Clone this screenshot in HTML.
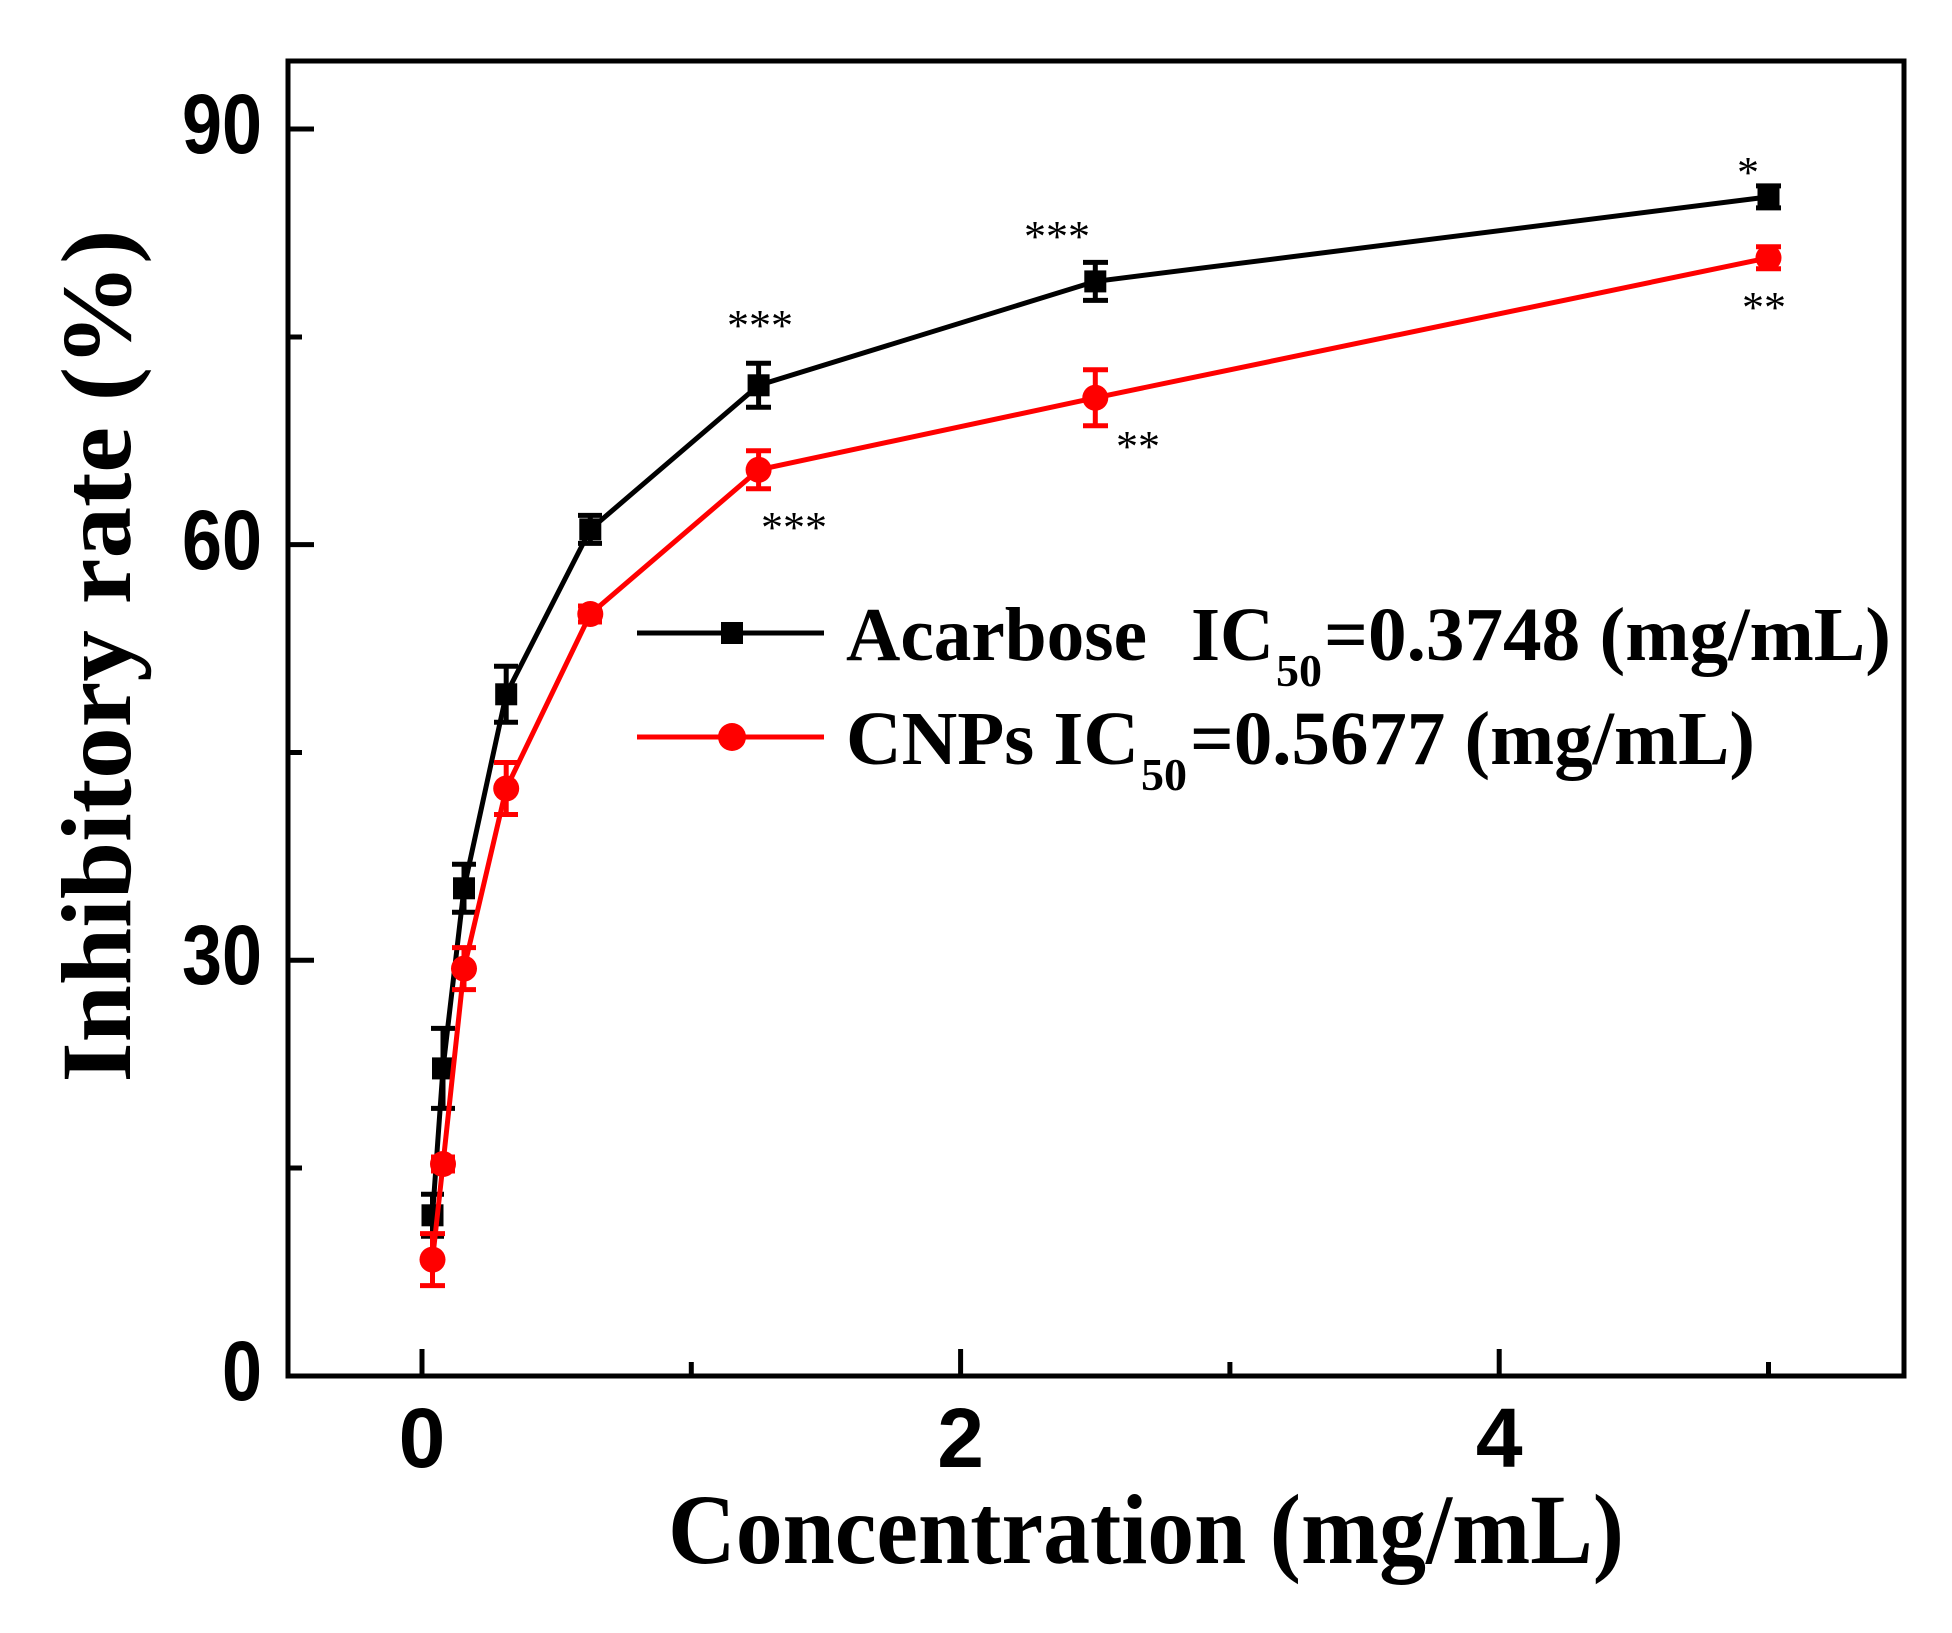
<!DOCTYPE html>
<html><head><meta charset="utf-8"><style>html,body{margin:0;padding:0;background:#fff}</style></head>
<body>
<svg width="1952" height="1628" viewBox="0 0 1952 1628" xmlns="http://www.w3.org/2000/svg">
<rect width="1952" height="1628" fill="#fff"/>
<rect x="288" y="61" width="1616" height="1315" fill="none" stroke="#000" stroke-width="5"/>
<g stroke="#000" stroke-width="5">
<line x1="288" y1="1376" x2="314" y2="1376"/>
<line x1="288" y1="960.3" x2="314" y2="960.3"/>
<line x1="288" y1="544.6" x2="314" y2="544.6"/>
<line x1="288" y1="129" x2="314" y2="129"/>
<line x1="288" y1="1168" x2="302" y2="1168"/>
<line x1="288" y1="752.5" x2="302" y2="752.5"/>
<line x1="288" y1="337" x2="302" y2="337"/>
<line x1="422" y1="1376" x2="422" y2="1349"/>
<line x1="960.6" y1="1376" x2="960.6" y2="1349"/>
<line x1="1499.2" y1="1376" x2="1499.2" y2="1349"/>
<line x1="691.3" y1="1376" x2="691.3" y2="1362"/>
<line x1="1229.9" y1="1376" x2="1229.9" y2="1362"/>
<line x1="1768.5" y1="1376" x2="1768.5" y2="1362"/>
</g>
<g font-family="Liberation Sans, Arial, sans-serif" font-weight="bold" font-size="84" fill="#000" text-anchor="end">
<text x="262" y="153" textLength="80" lengthAdjust="spacingAndGlyphs">90</text>
<text x="262" y="569" textLength="80" lengthAdjust="spacingAndGlyphs">60</text>
<text x="262" y="984" textLength="80" lengthAdjust="spacingAndGlyphs">30</text>
<text x="262" y="1400" textLength="40" lengthAdjust="spacingAndGlyphs">0</text>
</g>
<g font-family="Liberation Sans, Arial, sans-serif" font-weight="bold" font-size="84" fill="#000" text-anchor="middle">
<text x="422" y="1467">0</text>
<text x="960.6" y="1467">2</text>
<text x="1499.2" y="1467">4</text>
</g>
<text x="1146" y="1563" font-family="Liberation Serif, Times New Roman, serif" font-weight="bold" font-size="100" text-anchor="middle" textLength="956" lengthAdjust="spacingAndGlyphs">Concentration (mg/mL)</text>
<text transform="translate(130,656) rotate(-90)" x="0" y="0" font-family="Liberation Serif, Times New Roman, serif" font-weight="bold" font-size="100" text-anchor="middle" textLength="853" lengthAdjust="spacingAndGlyphs">Inhibitory rate (%)</text>

<g stroke="#000" stroke-width="5" fill="none">
<polyline points="432.5,1215.3 443,1068.4 464,888.3 506.2,694.3 590.3,529.4 758.6,385.3 1095.3,281.4 1768.5,196.9"/>
<path d="M432.5,1194.3V1236.3M421,1194.3h23M421,1236.3h23
M443,1028.4V1108.4M431,1028.4h24M431,1108.4h24
M464,864.3V912.3M452,864.3h24M452,912.3h24
M506.2,666.3V722.3M494,666.3h24M494,722.3h24
M590.3,515.4V543.4M578,515.4h24M578,543.4h24
M758.6,363.3V407.3M746,363.3h25M746,407.3h25
M1095.3,262.4V300.4M1083,262.4h25M1083,300.4h25
M1768.5,185.9V207.9M1756,185.9h25M1756,207.9h25"/>
</g>
<g fill="#000">
<rect x="421.5" y="1204.3" width="22" height="22"/>
<rect x="432" y="1057.4" width="22" height="22"/>
<rect x="453" y="877.3" width="22" height="22"/>
<rect x="495.2" y="683.3" width="22" height="22"/>
<rect x="579.3" y="518.4" width="22" height="22"/>
<rect x="747.6" y="374.3" width="22" height="22"/>
<rect x="1084.3" y="270.4" width="22" height="22"/>
<rect x="1757.5" y="185.9" width="22" height="22"/>
</g>
<g stroke="#f00" stroke-width="5" fill="none">
<polyline points="432.5,1259.6 443,1164 464,968.6 506.2,788.5 590.3,614 758.6,469.8 1095.3,397.8 1768.5,257.8"/>
<path d="M432.5,1233.6V1285.6M420,1233.6h25M420,1285.6h25
M443,1157V1171M431,1157h24M431,1171h24
M464,947.6V989.6M452,947.6h24M452,989.6h24
M506.2,762.5V814.5M494,762.5h24M494,814.5h24
M590.3,606V622M578,606h24M578,622h24
M758.6,450.8V488.8M746,450.8h25M746,488.8h25
M1095.3,369.8V425.8M1083,369.8h25M1083,425.8h25
M1768.5,246.8V268.8M1756,246.8h25M1756,268.8h25"/>
</g>
<g fill="#f00">
<circle cx="432.5" cy="1259.6" r="13"/>
<circle cx="443" cy="1164" r="13"/>
<circle cx="464" cy="968.6" r="13"/>
<circle cx="506.2" cy="788.5" r="13"/>
<circle cx="590.3" cy="614" r="13"/>
<circle cx="758.6" cy="469.8" r="13"/>
<circle cx="1095.3" cy="397.8" r="13"/>
<circle cx="1768.5" cy="257.8" r="13"/>
</g>
<g font-family="Liberation Serif, Times New Roman, serif" font-size="44" fill="#000" text-anchor="middle">
<text x="760" y="340">***</text>
<text x="1057" y="251">***</text>
<text x="1748" y="187">*</text>
<text x="1764" y="322">**</text>
<text x="1138" y="461">**</text>
<text x="794" y="542">***</text>
</g>
<line x1="637" y1="633" x2="824" y2="633" stroke="#000" stroke-width="5"/>
<rect x="721" y="622" width="22" height="22" fill="#000"/>
<line x1="637" y1="737" x2="824" y2="737" stroke="#f00" stroke-width="5"/>
<circle cx="732" cy="737" r="14" fill="#f00"/>
<g font-family="Liberation Serif, Times New Roman, serif" font-weight="bold" fill="#000">
<text x="846" y="660" font-size="76" textLength="301" lengthAdjust="spacingAndGlyphs">Acarbose</text>
<text x="1191" y="660" font-size="76" textLength="83" lengthAdjust="spacingAndGlyphs">IC</text>
<text x="1276" y="686" font-size="46" textLength="46" lengthAdjust="spacingAndGlyphs">50</text>
<text x="1324" y="660" font-size="76" textLength="567" lengthAdjust="spacingAndGlyphs">=0.3748 (mg/mL)</text>
<text x="846" y="764" font-size="76" textLength="293" lengthAdjust="spacingAndGlyphs">CNPs IC</text>
<text x="1141" y="790" font-size="46" textLength="46" lengthAdjust="spacingAndGlyphs">50</text>
<text x="1190" y="764" font-size="76" textLength="565" lengthAdjust="spacingAndGlyphs">=0.5677 (mg/mL)</text>
</g>
</svg>
</body></html>
